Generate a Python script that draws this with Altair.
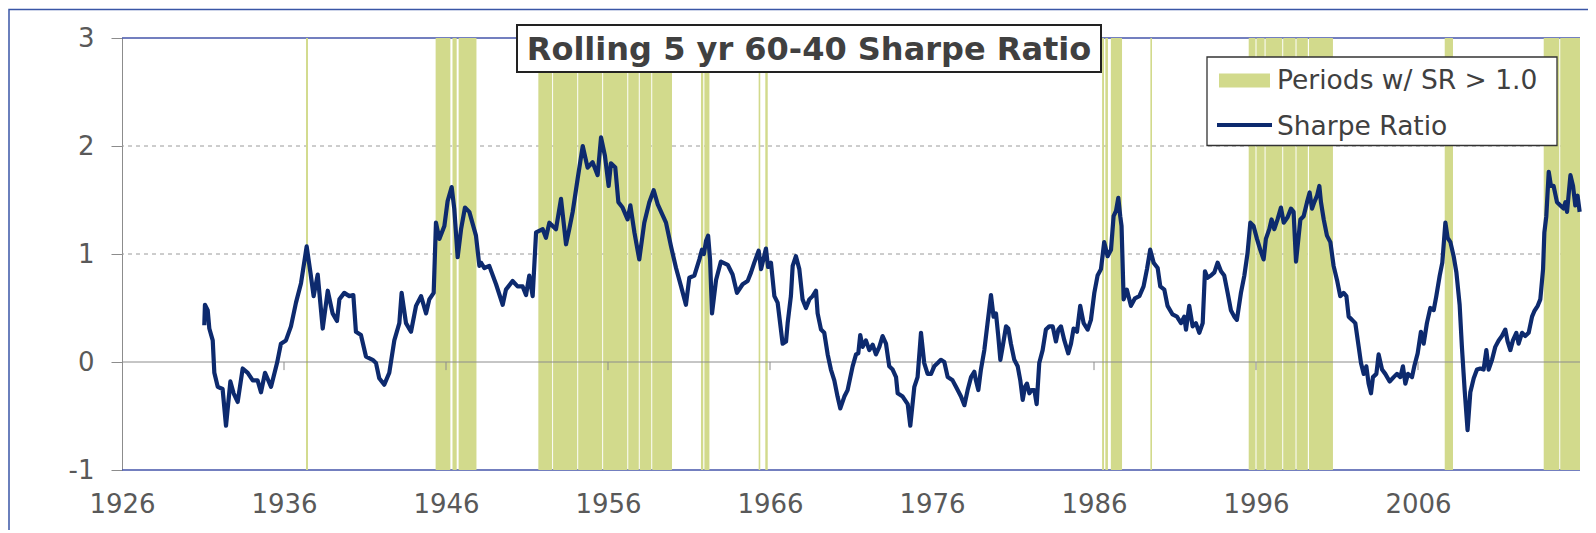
import altair as alt
import pandas as pd

# ---------------- data ----------------
TITLE = "Rolling 5 yr 60-40 Sharpe Ratio"
LEGEND_BAND = "Periods w/ SR > 1.0"
LEGEND_LINE = "Sharpe Ratio"

x_ticks = [1926, 1936, 1946, 1956, 1966, 1976, 1986, 1996, 2006]
y_ticks = [-1, 0, 1, 2, 3]
grid_levels = [1, 2]
border_levels = [-1, 3]
axis_tick_years = [1936, 1946, 1956, 1966, 1976, 1986, 1996, 2006]

sr_1931_1948 = [
    (1931.08, 0.34), (1931.12, 0.53), (1931.29, 0.48), (1931.39, 0.31), (1931.60, 0.20),
    (1931.70, -0.10), (1931.91, -0.23), (1932.21, -0.25), (1932.42, -0.59), (1932.69, -0.18),
    (1932.89, -0.29), (1933.14, -0.37), (1933.45, -0.06), (1933.76, -0.10), (1934.07, -0.17),
    (1934.37, -0.17), (1934.58, -0.28), (1934.83, -0.10), (1935.20, -0.23), (1935.57, -0.01),
    (1935.81, 0.17), (1936.12, 0.20), (1936.43, 0.33), (1936.74, 0.55), (1937.05, 0.73),
    (1937.40, 1.07), (1937.63, 0.83), (1937.83, 0.61), (1938.08, 0.81), (1938.39, 0.31),
    (1938.70, 0.66), (1939.00, 0.45), (1939.27, 0.38), (1939.42, 0.58), (1939.72, 0.64),
    (1940.03, 0.61), (1940.28, 0.62), (1940.44, 0.28), (1940.75, 0.25), (1941.06, 0.05),
    (1941.47, 0.02), (1941.68, -0.01), (1941.88, -0.15), (1942.19, -0.21), (1942.50, -0.10),
    (1942.81, 0.20), (1943.12, 0.36), (1943.26, 0.64), (1943.53, 0.36), (1943.84, 0.28),
    (1944.15, 0.52), (1944.46, 0.61), (1944.77, 0.45), (1944.97, 0.58), (1945.24, 0.64),
    (1945.38, 1.29), (1945.59, 1.14), (1945.90, 1.26), (1946.10, 1.49), (1946.35, 1.62),
    (1946.51, 1.42), (1946.72, 0.97), (1946.93, 1.23), (1947.17, 1.43), (1947.44, 1.39),
    (1947.85, 1.17), (1948.06, 0.89),
]

sr_1948_1966 = [
    (1948.16, 0.92), (1948.37, 0.87), (1948.67, 0.89), (1949.09, 0.72), (1949.50, 0.53),
    (1949.70, 0.67), (1950.11, 0.75), (1950.42, 0.70), (1950.73, 0.70), (1950.94, 0.62),
    (1951.14, 0.80), (1951.35, 0.61), (1951.56, 1.20), (1951.97, 1.23), (1952.17, 1.15),
    (1952.38, 1.29), (1952.79, 1.23), (1953.10, 1.51), (1953.41, 1.09), (1953.61, 1.23),
    (1953.82, 1.39), (1954.13, 1.70), (1954.44, 2.00), (1954.74, 1.80), (1955.05, 1.85),
    (1955.36, 1.73), (1955.57, 2.08), (1955.81, 1.91), (1956.04, 1.63), (1956.18, 1.84),
    (1956.45, 1.80), (1956.64, 1.48), (1956.90, 1.43), (1957.21, 1.32), (1957.38, 1.45),
    (1957.63, 1.20), (1957.93, 0.95), (1958.24, 1.29), (1958.55, 1.48), (1958.82, 1.59),
    (1959.07, 1.46), (1959.58, 1.29), (1959.89, 1.07), (1960.20, 0.87), (1960.51, 0.70),
    (1960.81, 0.53), (1961.02, 0.78), (1961.33, 0.80), (1961.64, 0.95), (1961.80, 1.04),
    (1961.92, 1.00), (1962.05, 1.12), (1962.18, 1.17), (1962.30, 0.95), (1962.42, 0.45),
    (1962.67, 0.76), (1962.97, 0.93), (1963.39, 0.90), (1963.69, 0.81), (1963.96, 0.64),
    (1964.31, 0.72), (1964.62, 0.75), (1964.83, 0.83), (1965.03, 0.92), (1965.30, 1.03),
    (1965.45, 0.86), (1965.75, 1.05), (1965.88, 0.88),
]

sr_1966_1984 = [
    (1966.06, 0.92), (1966.27, 0.61), (1966.47, 0.55), (1966.78, 0.17), (1966.99, 0.19),
    (1967.09, 0.36), (1967.29, 0.61), (1967.40, 0.89), (1967.60, 0.98), (1967.81, 0.86),
    (1968.01, 0.58), (1968.22, 0.50), (1968.43, 0.58), (1968.63, 0.61), (1968.84, 0.66),
    (1968.94, 0.45), (1969.15, 0.30), (1969.35, 0.27), (1969.56, 0.07), (1969.76, -0.07),
    (1969.97, -0.17), (1970.17, -0.32), (1970.34, -0.43), (1970.59, -0.32), (1970.79, -0.26),
    (1971.10, -0.04), (1971.31, 0.07), (1971.45, 0.08), (1971.57, 0.25), (1971.72, 0.14),
    (1971.92, 0.20), (1972.13, 0.11), (1972.34, 0.16), (1972.54, 0.07), (1972.75, 0.14),
    (1972.95, 0.24), (1973.16, 0.17), (1973.36, -0.04), (1973.57, -0.07), (1973.78, -0.14),
    (1973.88, -0.29), (1974.19, -0.32), (1974.50, -0.39), (1974.66, -0.59), (1974.91, -0.23),
    (1975.11, -0.14), (1975.32, 0.27), (1975.52, -0.01), (1975.73, -0.11), (1975.94, -0.11),
    (1976.14, -0.04), (1976.35, -0.01), (1976.55, 0.02), (1976.76, 0.00), (1976.97, -0.14),
    (1977.27, -0.17), (1977.48, -0.23), (1977.79, -0.32), (1978.00, -0.40), (1978.20, -0.26),
    (1978.41, -0.14), (1978.61, -0.09), (1978.71, -0.17), (1978.86, -0.26), (1979.02, -0.07),
    (1979.23, 0.11), (1979.43, 0.36), (1979.64, 0.62), (1979.80, 0.42), (1979.95, 0.45),
    (1980.09, 0.24), (1980.22, 0.02), (1980.36, 0.14), (1980.57, 0.33), (1980.71, 0.31),
    (1980.87, 0.17), (1981.08, 0.02), (1981.29, -0.04), (1981.45, -0.17), (1981.60, -0.35),
    (1981.74, -0.23), (1981.86, -0.20), (1982.01, -0.29), (1982.15, -0.26), (1982.32, -0.26),
    (1982.46, -0.39), (1982.62, -0.01), (1982.83, 0.11), (1983.03, 0.30), (1983.24, 0.33),
    (1983.45, 0.33), (1983.65, 0.19), (1983.80, 0.30), (1983.96, 0.33),
]

sr_1984_1998 = [
    (1984.17, 0.20), (1984.41, 0.08), (1984.58, 0.17), (1984.74, 0.31), (1984.95, 0.28),
    (1985.15, 0.52), (1985.36, 0.36), (1985.61, 0.30), (1985.81, 0.39), (1986.02, 0.64),
    (1986.22, 0.80), (1986.43, 0.86), (1986.63, 1.11), (1986.84, 0.98), (1987.05, 1.04),
    (1987.21, 1.35), (1987.36, 1.40), (1987.50, 1.52), (1987.62, 1.35), (1987.70, 1.26),
    (1987.83, 0.58), (1988.03, 0.67), (1988.28, 0.52), (1988.53, 0.59), (1988.80, 0.61),
    (1989.06, 0.70), (1989.27, 0.86), (1989.47, 1.04), (1989.68, 0.92), (1989.93, 0.87),
    (1990.09, 0.70), (1990.34, 0.67), (1990.54, 0.52), (1990.85, 0.44), (1991.12, 0.42),
    (1991.37, 0.36), (1991.57, 0.42), (1991.68, 0.30), (1991.88, 0.52), (1992.09, 0.33),
    (1992.29, 0.36), (1992.50, 0.27), (1992.71, 0.36), (1992.85, 0.84), (1993.01, 0.78),
    (1993.22, 0.80), (1993.43, 0.83), (1993.63, 0.92), (1993.84, 0.84), (1994.04, 0.80),
    (1994.25, 0.64), (1994.45, 0.48), (1994.66, 0.42), (1994.82, 0.39), (1995.07, 0.64),
    (1995.28, 0.80), (1995.48, 1.01), (1995.65, 1.29), (1995.85, 1.26), (1996.06, 1.14),
    (1996.26, 1.04), (1996.47, 0.95), (1996.61, 1.14), (1996.82, 1.23), (1996.96, 1.32),
    (1997.13, 1.23), (1997.33, 1.32), (1997.54, 1.43), (1997.71, 1.29), (1997.95, 1.34),
    (1998.16, 1.42), (1998.32, 1.39), (1998.47, 0.93),
]

sr_1998_2016 = [
    (1998.74, 1.32), (1998.94, 1.35), (1999.15, 1.48), (1999.31, 1.57), (1999.46, 1.42),
    (1999.60, 1.48), (1999.77, 1.54), (1999.91, 1.63), (2000.01, 1.48), (2000.18, 1.32),
    (2000.38, 1.17), (2000.59, 1.11), (2000.79, 0.89), (2001.00, 0.76), (2001.20, 0.61),
    (2001.41, 0.64), (2001.58, 0.61), (2001.72, 0.42), (2001.93, 0.39), (2002.13, 0.36),
    (2002.34, 0.14), (2002.48, -0.01), (2002.65, -0.11), (2002.81, -0.04), (2002.95, -0.20),
    (2003.10, -0.29), (2003.22, -0.14), (2003.43, -0.11), (2003.57, 0.07), (2003.78, -0.07),
    (2003.98, -0.11), (2004.25, -0.18), (2004.50, -0.14), (2004.70, -0.11), (2004.91, -0.14),
    (2005.07, -0.04), (2005.22, -0.20), (2005.38, -0.11), (2005.63, -0.14), (2005.77, -0.04),
    (2005.98, 0.08), (2006.18, 0.28), (2006.35, 0.17), (2006.55, 0.36), (2006.76, 0.50),
    (2006.97, 0.48), (2007.13, 0.61), (2007.34, 0.80), (2007.50, 0.92), (2007.69, 1.29),
    (2007.83, 1.15), (2008.00, 1.11), (2008.20, 0.98), (2008.37, 0.83), (2008.57, 0.53),
    (2008.71, 0.14), (2008.88, -0.26), (2009.06, -0.63), (2009.23, -0.28), (2009.44, -0.15),
    (2009.64, -0.07), (2009.85, -0.06), (2010.05, -0.07), (2010.22, 0.11), (2010.36, -0.07),
    (2010.57, 0.02), (2010.77, 0.14), (2010.98, 0.20), (2011.18, 0.24), (2011.39, 0.30),
    (2011.53, 0.19), (2011.70, 0.11), (2011.86, 0.20), (2012.07, 0.27), (2012.21, 0.17),
    (2012.42, 0.27), (2012.62, 0.24), (2012.83, 0.27), (2013.04, 0.42), (2013.18, 0.47),
    (2013.39, 0.52), (2013.55, 0.58), (2013.72, 0.86), (2013.80, 1.20), (2013.92, 1.35),
    (2014.07, 1.76), (2014.21, 1.63), (2014.37, 1.63), (2014.58, 1.48), (2014.79, 1.45),
    (2014.99, 1.42), (2015.10, 1.48), (2015.20, 1.39), (2015.41, 1.73), (2015.57, 1.63),
    (2015.71, 1.45), (2015.85, 1.54), (2015.98, 1.39),
]

# shaded periods (start, end) in fractional years
band_periods = [
    (1937.36, 1937.48),
    (1945.36, 1946.27), (1946.40, 1946.66), (1946.78, 1947.88),
    (1951.70, 1952.55), (1952.61, 1954.10), (1954.16, 1955.64), (1955.70, 1957.19),
    (1957.25, 1957.90), (1957.96, 1958.67), (1958.73, 1959.95),
    (1961.74, 1961.88), (1961.95, 1962.26),
    (1965.30, 1965.40), (1965.71, 1965.86),
    (1986.50, 1986.62), (1986.70, 1986.86), (1987.04, 1987.73),
    (1989.48, 1989.58),
    (1995.55, 1995.97), (1996.03, 1996.53), (1996.59, 1997.62), (1997.68, 1998.44),
    (1998.50, 1999.20), (1999.27, 2000.75),
    (2007.65, 2008.16),
    (2013.76, 2014.72), (2014.78, 2016.00),
]

# ---------------- tables ----------------
series = sr_1931_1948 + sr_1948_1966 + sr_1966_1984 + sr_1984_1998 + sr_1998_2016
line_df = pd.DataFrame(series, columns=["year", "sr"])
band_df = pd.DataFrame(band_periods, columns=["start", "end"])
grid_df = pd.DataFrame({"v": grid_levels})
border_df = pd.DataFrame({"v": border_levels})
tick_df = pd.DataFrame({"t": axis_tick_years})
one = alt.Data(values=[{}])

# ---------------- styles ----------------
FONT = "DejaVu Sans"
BAND = "#D2DA8C"
NAVY = "#0D2A6E"
BLUE = "#4455AA"
GRAY = "#8C8C8C"
W, H = 1458, 432

xs = alt.Scale(domain=[1926, 2016], nice=False, zero=False)
ys = alt.Scale(domain=[-1, 3], nice=False, zero=False)
x_axis = alt.Axis(values=x_ticks, labelExpr="'' + datum.value", title=None, grid=False,
                  domain=False, tickSize=0, labelPadding=21, labelFontSize=26,
                  labelColor="#595959", labelFont=FONT, labelFlush=False)
y_axis = alt.Axis(values=y_ticks, labelExpr="'' + datum.value", title=None, grid=False,
                  domainColor=GRAY, tickColor=GRAY, tickSize=11, labelPadding=17,
                  labelFontSize=26, labelColor="#595959", labelFont=FONT)

frame = alt.Chart(one).mark_rect(fillOpacity=0, stroke="#3A56A6", strokeWidth=1.5).encode(
    x=alt.value(-113), x2=alt.value(1600), y=alt.value(-28.5), y2=alt.value(540))

grid = alt.Chart(grid_df).mark_rule(color="#9A9A9A", strokeWidth=1, strokeDash=[4, 4]).encode(
    y=alt.Y("v:Q", scale=ys, axis=y_axis))

borders = alt.Chart(border_df).mark_rule(color=BLUE, strokeWidth=1.5).encode(
    y=alt.Y("v:Q", scale=ys, axis=y_axis))

bands = alt.Chart(band_df).mark_rect(color=BAND).encode(
    x=alt.X("start:Q", scale=xs, axis=x_axis), x2="end:Q",
    y=alt.value(0), y2=alt.value("height"))

zero = alt.Chart(one).mark_rule(color=GRAY, strokeWidth=1).encode(
    y=alt.YDatum(0, scale=ys, axis=y_axis))

zero_ticks = alt.Chart(tick_df).mark_rule(color=GRAY, strokeWidth=1).encode(
    x=alt.X("t:Q", scale=xs, axis=x_axis),
    y=alt.YDatum(0, scale=ys, axis=y_axis), y2=alt.Y2Datum(-0.075))

line = alt.Chart(line_df).mark_line(color=NAVY, strokeWidth=4.2, strokeJoin="round").encode(
    x=alt.X("year:Q", scale=xs, axis=x_axis),
    y=alt.Y("sr:Q", scale=ys, axis=y_axis))

title_box = alt.Chart(one).mark_rect(fill="white", stroke="#222222", strokeWidth=2).encode(
    x=alt.value(395), x2=alt.value(979), y=alt.value(-13), y2=alt.value(34))
title_text = alt.Chart(one).mark_text(text=TITLE, font=FONT, fontSize=32, fontWeight="bold",
                                      color="#404040", align="center",
                                      baseline="alphabetic").encode(
    x=alt.value(687), y=alt.value(21.5))

leg_box = alt.Chart(one).mark_rect(fill="white", stroke="#333333", strokeWidth=1.3).encode(
    x=alt.value(1085), x2=alt.value(1435), y=alt.value(19), y2=alt.value(107.5))
leg_swatch = alt.Chart(one).mark_rect(color=BAND).encode(
    x=alt.value(1097), x2=alt.value(1148), y=alt.value(35.5), y2=alt.value(49.5))
leg_line = alt.Chart(one).mark_rule(color=NAVY, strokeWidth=4).encode(
    x=alt.value(1095), x2=alt.value(1150), y=alt.value(87))
leg_t1 = alt.Chart(one).mark_text(text=LEGEND_BAND, font=FONT, fontSize=26.5, color="#404040",
                                  align="left", baseline="alphabetic").encode(
    x=alt.value(1155), y=alt.value(50.5))
leg_t2 = alt.Chart(one).mark_text(text=LEGEND_LINE, font=FONT, fontSize=26.5, color="#404040",
                                  align="left", baseline="alphabetic").encode(
    x=alt.value(1155), y=alt.value(97))

chart = alt.layer(
    frame, grid, borders, bands, zero, zero_ticks, line,
    title_box, title_text, leg_box, leg_swatch, leg_line, leg_t1, leg_t2,
).properties(
    width=W, height=H,
    autosize=alt.AutoSizeParams(type="none"),
    padding={"left": 114, "top": 30, "right": 8, "bottom": 60},
    background="white",
).configure_view(stroke=None)

chart.save("out.html", embed_options={"renderer": "svg", "actions": False})
